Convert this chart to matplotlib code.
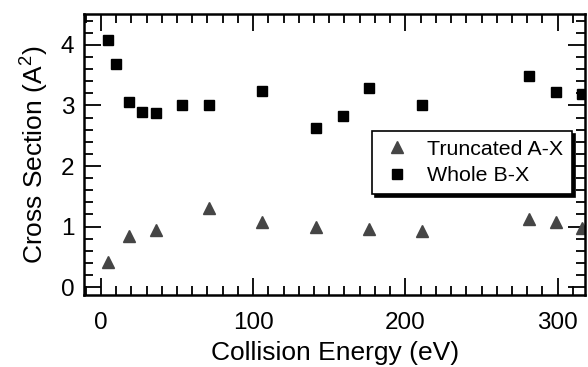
import numpy as np
import matplotlib.pyplot as plt
from matplotlib.ticker import MultipleLocator

plt.rcParams['font.family'] = ['Liberation Sans', 'DejaVu Sans']
plt.rcParams['mathtext.fontset'] = 'custom'
plt.rcParams['mathtext.rm'] = 'Liberation Sans'

# Datos
energia_ax = [5, 18.5, 36, 71, 106, 141, 176, 211, 281, 299, 316]
seccion_ax = [0.42, 0.85, 0.95, 1.30, 1.07, 1.00, 0.96, 0.92, 1.13, 1.08, 0.97]

energia_bx = [5, 10, 18.5, 27, 36, 53, 71, 106, 141, 159, 176, 211, 281, 299, 316]
seccion_bx = [4.08, 3.68, 3.05, 2.89, 2.88, 3.00, 3.00, 3.24, 2.63, 2.82, 3.29,
              3.00, 3.49, 3.22, 3.19]

fig = plt.figure(figsize=(5.88, 3.67), dpi=100)
ax = fig.add_axes([0.143, 0.196, 0.852, 0.766])

ax.plot(energia_ax, seccion_ax, linestyle='none', marker='^', markersize=9,
        color='#454545', label='Truncated A-X')
ax.plot(energia_bx, seccion_bx, linestyle='none', marker='s', markersize=7.5,
        color='black', label='Whole B-X')

ax.set_xlim(-11, 318)
ax.set_ylim(-0.13, 4.51)

ax.xaxis.set_major_locator(MultipleLocator(100))
ax.xaxis.set_minor_locator(MultipleLocator(10))
ax.yaxis.set_major_locator(MultipleLocator(1))
ax.yaxis.set_minor_locator(MultipleLocator(0.2))

ax.tick_params(which='both', direction='in', top=True, right=True, width=1.3)
ax.tick_params(which='major', length=12, labelsize=17.5)
ax.tick_params(axis='x', which='major', pad=12)
ax.tick_params(axis='y', which='major', pad=7)
ax.tick_params(which='minor', length=6.5)
for s in ax.spines.values():
    s.set_linewidth(1.8)

ax.set_xlabel('Collision Energy (eV)', fontsize=19, labelpad=5)
ax.set_ylabel('Cross Section (A$^{2}$)', fontsize=19, labelpad=8)

leg = ax.legend(loc='lower right', bbox_to_anchor=(0.974, 0.36), borderaxespad=0,
                fancybox=False, edgecolor='black', fontsize=15.4, handletextpad=0.6,
                shadow={'color': 'black', 'alpha': 1, 'ox': 2, 'oy': -2}, framealpha=1,
                borderpad=0.4, labelspacing=0.35, handlelength=1.6)
leg.get_frame().set_linewidth(1.2)

fig.savefig('out.png', dpi=100)
